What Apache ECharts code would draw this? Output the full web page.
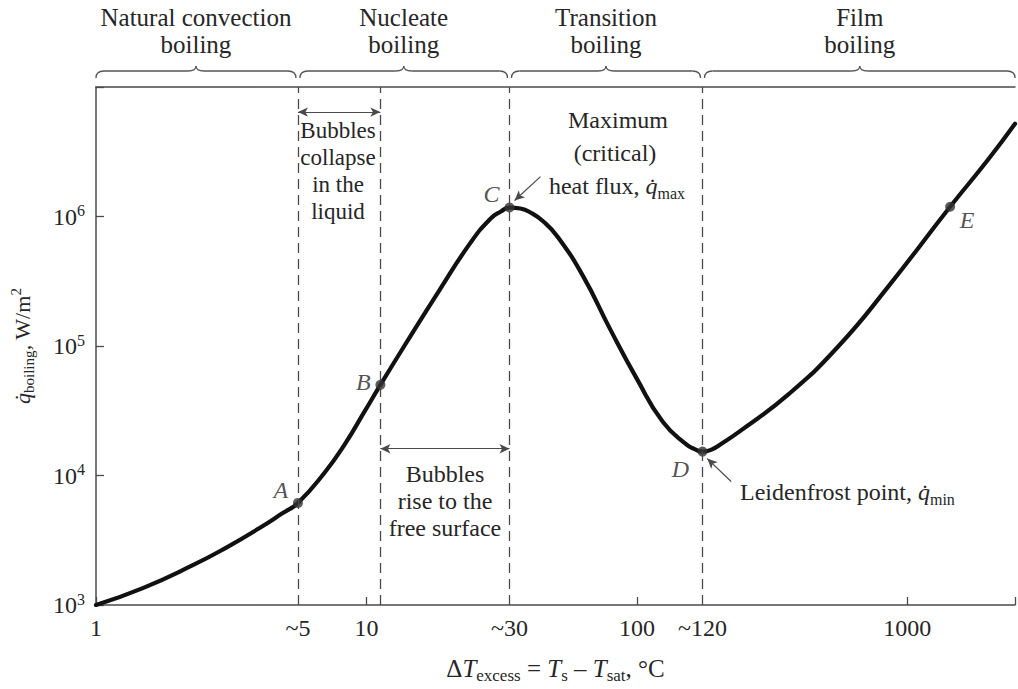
<!DOCTYPE html>
<html>
<head>
<meta charset="utf-8">
<script src="https://cdn.jsdelivr.net/npm/echarts@6/dist/echarts.min.js"></script>
<style>
html, body { margin: 0; padding: 0; background: #fff; }
#chart { width: 1018px; height: 689px; }
</style>
</head>
<body>
<div id="chart"></div>
<script>
// boiling curve (schematic)
const curveT = [1, 1.49, 2.27, 3.01, 4.01, 4.87, 5.58, 7.01, 8.30, 9.83, 11.26, 13.8, 18.4, 24.3, 28.8, 31.4,
  33.8, 37.1, 40.4, 45.1, 50.8, 63.3, 79.6, 100, 124.6, 152.7, 163.4, 174.8, 188.7, 205.4, 239, 365, 557, 851,
  1439, 1986, 2500];
const curveQ = [1000, 1350, 2020, 2750, 3910, 5080, 6140, 10550, 17300, 31100, 50100, 100000, 260000, 631000, 966000, 1093000,
  1173000, 1152000, 1074000, 915000, 702000, 345000, 135000, 55700, 26000, 17300, 16000, 15300, 15850, 17600, 21800, 42700, 100000, 289000,
  1190000, 2740000, 5200000];

// marked points A..E
const pointNames = ['A', 'B', 'C', 'D', 'E'];
const pointT = [5.58, 11.26, 33.8, 174.8, 1439];
const pointQ = [6140, 50100, 1173000, 15300, 1190000];

// labels under the dashed regime boundaries (through A, B, C, D)
const boundaryLabels = ['~5', '', '~30', '~120'];

const regionNames = [
  ['Natural convection', 'boiling'],
  ['Nucleate', 'boiling'],
  ['Transition', 'boiling'],
  ['Film', 'boiling']
];

const xMin = 1, xMax = 2500;
const yMin = 1e3, yMax = 1e7;

/*
 * styles
 * */
const SERIF = '"Liberation Serif", "Times New Roman", serif';
const ink = '#262626';
const lineInk = '#4a4a4a';
const makeRich = (big, small, shift) => ({
  t: { fontFamily: SERIF, fontSize: big, color: ink },
  it: { fontFamily: SERIF, fontSize: big, color: ink, fontStyle: 'italic' },
  sub: { fontFamily: SERIF, fontSize: small, color: ink, padding: [shift, 0, 0, 0] },
  sup: { fontFamily: SERIF, fontSize: small, color: ink, padding: [0, 0, shift, 0] }
});
const richTitle = makeRich(25, 17, 14);
const richY = makeRich(22, 15, 13);
const richTick = makeRich(24, 16, 12);
const richNote = makeRich(24, 16, 14);
const labelOffsets = [[-17, -13], [-17, -3], [-18, -14], [-22, 17], [17, 13]];

const chart = echarts.init(document.getElementById('chart'), null, { renderer: 'svg' });

const isDecade = (v) => {
  const lg = Math.log10(v);
  return Math.abs(lg - Math.round(lg)) < 1e-6;
};
const frameLine = { show: true, lineStyle: { color: lineInk, width: 1.5 } };

const option = {
  animation: false,
  grid: { left: 93, right: 0, top: 87, bottom: 82 },
  xAxis: [
    {
      type: 'log', min: xMin, max: xMax,
      axisLine: frameLine,
      axisTick: { show: true, inside: true, length: 8, lineStyle: { color: lineInk, width: 1.3 } },
      axisLabel: {
        margin: 11, color: ink, fontFamily: SERIF, fontSize: 24,
        formatter: (v) => (isDecade(v) ? String(Math.round(v)) : '')
      },
      splitLine: { show: false },
      name: '{t|Δ}{it|T}{sub|excess}{t| = }{it|T}{sub|s}{t| – }{it|T}{sub|sat}{t|, °C}',
      nameLocation: 'middle', nameGap: 48,
      nameTextStyle: { rich: richTitle }
    },
    {
      // top edge of the frame
      type: 'log', min: xMin, max: xMax, position: 'top',
      axisLine: frameLine, axisTick: { show: false }, axisLabel: { show: false }, splitLine: { show: false }
    }
  ],
  yAxis: {
    type: 'log', min: yMin, max: yMax,
    axisLine: frameLine,
    axisTick: { show: true, inside: true, length: 8, lineStyle: { color: lineInk, width: 1.3 } },
    axisLabel: {
      margin: 11, rich: richTick,
      formatter: (v) => (v >= yMax * 0.99 ? '' : '{t|10}{sup|' + Math.round(Math.log10(v)) + '}')
    },
    splitLine: { show: false },
    name: '{it|q̇}{sub|boiling}{t|, W/m}{sup|2}',
    nameLocation: 'middle', nameRotate: 90, nameGap: 60,
    nameTextStyle: { rich: richY }
  },
  series: [
    {
      name: 'boiling curve',
      type: 'line',
      data: curveT.map((t, i) => [t, curveQ[i]]),
      smooth: 0.5,
      symbol: 'none',
      lineStyle: { color: '#111', width: 4.2, join: 'round', cap: 'round' },
      silent: true,
      z: 3
    },
    {
      name: 'points',
      type: 'scatter',
      data: pointT.map((t, i) => ({
        value: [t, pointQ[i]],
        name: pointNames[i],
        label: { offset: labelOffsets[i] }
      })),
      symbolSize: 10,
      itemStyle: { color: '#333' },
      label: {
        show: true, position: 'inside', formatter: '{b}',
        fontFamily: SERIF, fontSize: 24, fontStyle: 'italic', color: ink
      },
      silent: true,
      z: 4,
      markLine: {
        silent: true,
        symbol: 'none',
        lineStyle: { type: [10, 6], color: lineInk, width: 1.3 },
        label: {
          show: true, position: 'start', distance: 11,
          fontFamily: SERIF, fontSize: 24, color: ink
        },
        emphasis: { disabled: true },
        data: pointT.slice(0, 4).map((t, i) => ({
          xAxis: t,
          label: { formatter: boundaryLabels[i], show: boundaryLabels[i] !== '' }
        }))
      }
    },
    {
      name: 'arrows',
      type: 'line',
      data: [],
      markLine: {
        silent: true,
        symbol: ['arrow', 'arrow'],
        symbolSize: [7, 10],
        label: { show: false },
        emphasis: { disabled: true },
        lineStyle: { type: 'solid', color: lineInk, width: 1.2 },
        data: [
          [{ coord: [pointT[0], 6.4e6] }, { coord: [pointT[1], 6.4e6] }],
          [{ coord: [pointT[1], 1.61e4] }, { coord: [pointT[2], 1.61e4] }],
          [{ coord: [44, 2.03e6], symbol: 'none', lineStyle: { curveness: 0.25 } }, { coord: [35.3, 1.33e6] }],
          [{ coord: [223, 8.99e3], symbol: 'none', lineStyle: { curveness: -0.25 } }, { coord: [182, 1.35e4] }]
        ]
      }
    }
  ]
};

chart.setOption(option);

/*
 * annotations: braces + headers, explanatory text
 * */
const px = (v) => chart.convertToPixel({ xAxisIndex: 0 }, v);
const text = (x, y, str, extra) => ({
  type: 'text', silent: true,
  style: Object.assign({
    x: x, y: y, text: str, fill: ink,
    font: '24px ' + SERIF,
    textAlign: 'center', textVerticalAlign: 'middle'
  }, extra || {})
});
const stroke = { stroke: '#555', lineWidth: 1.3, fill: null };
const brace = (x0, x1) => {
  const m = (x0 + x1) / 2, yE = 78, yL = 71, yT = 66;
  return [
    { type: 'bezierCurve', silent: true, shape: { x1: x0, y1: yE, cpx1: x0, cpy1: yL, x2: x0 + 8, y2: yL }, style: stroke },
    { type: 'line', silent: true, shape: { x1: x0 + 8, y1: yL, x2: m - 8, y2: yL }, style: stroke },
    { type: 'bezierCurve', silent: true, shape: { x1: m - 8, y1: yL, cpx1: m, cpy1: yL, x2: m, y2: yT }, style: stroke },
    { type: 'bezierCurve', silent: true, shape: { x1: m, y1: yT, cpx1: m, cpy1: yL, x2: m + 8, y2: yL }, style: stroke },
    { type: 'line', silent: true, shape: { x1: m + 8, y1: yL, x2: x1 - 8, y2: yL }, style: stroke },
    { type: 'bezierCurve', silent: true, shape: { x1: x1 - 8, y1: yL, cpx1: x1, cpy1: yL, x2: x1, y2: yE }, style: stroke }
  ];
};

const edges = [xMin, pointT[0], pointT[2], pointT[3], xMax];
let elements = [];
regionNames.forEach((lines, i) => {
  const x0 = px(edges[i]) + (i === 0 ? 0 : 2);
  const x1 = px(edges[i + 1]) - (i === 3 ? 0 : 2);
  elements = elements.concat(brace(x0, x1));
  elements.push(text((x0 + x1) / 2, 31, lines.join('\n'), { lineHeight: 27, font: '25px ' + SERIF }));
});

elements.push(text(338, 171, 'Bubbles\ncollapse\nin the\nliquid', { lineHeight: 27, font: '23px ' + SERIF }));
elements.push(text(445, 501, 'Bubbles\nrise to the\nfree surface', { lineHeight: 27 }));
elements.push(text(618, 120, 'Maximum'));
elements.push(text(615, 153, '(critical)'));
elements.push(text(617, 186, '{t|heat flux, }{it|q̇}{sub|max}', { rich: richNote }));
elements.push(text(740, 492, '{t|Leidenfrost point, }{it|q̇}{sub|min}', { rich: richNote, textAlign: 'left' }));

chart.setOption({ graphic: { elements: elements } });
</script>
</body>
</html>
